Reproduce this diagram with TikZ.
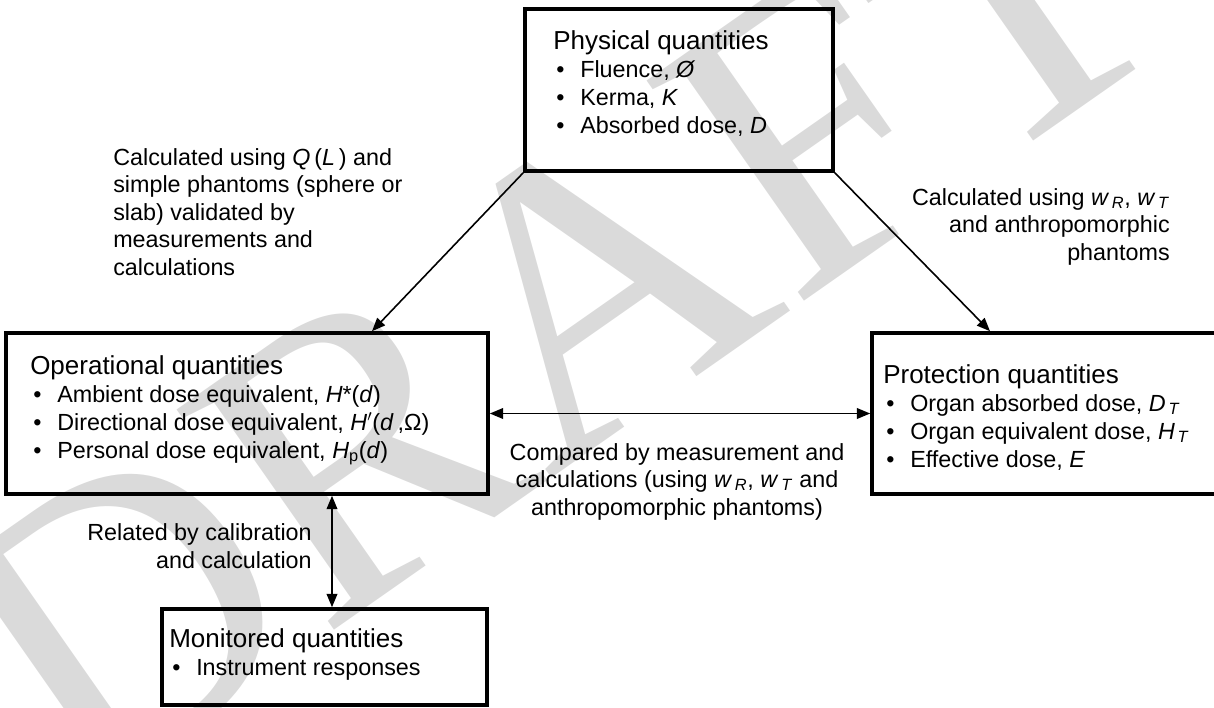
\documentclass[tikz,border=0pt]{standalone}
\usepackage{fontspec}
\setmainfont{Liberation Sans}
\newfontfamily\wmfont{Liberation Serif}
\usepackage{xcolor}
\usetikzlibrary{positioning, calc, arrows.meta}

\newdimen\px \px=0.75pt
\definecolor{wmgray}{HTML}{DADADA}
\newcommand{\qtitle}[1]{{\fontsize{19.5}{21}\selectfont #1}}
\newcommand{\qitem}[1]{\makebox[27\px][l]{\hspace{3\px}\textbullet}#1}
\newcommand{\isub}[2]{\textit{#1}\textsubscript{\textit{#2}}}

\begin{document}
\begin{tikzpicture}[x=0.75pt, y=-0.75pt,
    qbox/.style={draw, line width=2.7pt, inner sep=0pt},
    qtext/.style={inner sep=0pt, align=left, font=\fontsize{17.5}{21}\selectfont},
    qlabel/.style={inner sep=0pt, font=\fontsize{17.5}{20.6}\selectfont},
    conn/.style={line width=1.2pt, -{Triangle[length=10pt,width=8pt]}},
    biconn/.style={line width=1.2pt, {Triangle[length=10pt,width=8pt]}-{Triangle[length=10pt,width=8pt]}},
    wm/.style={text=wmgray, inner sep=0pt, rotate=35, font=\wmfont\fontsize{310}{310}\selectfont}]
    \useasboundingbox (0,0) rectangle (1214,707);
    \clip (0,0) rectangle (1214,707);
    % watermark
    \node[wm] (draft) at (555,310) {DRAFT};
    % boxes
    \node[qbox, minimum width=308\px, minimum height=162\px] (phys) at (679,90) {};
    \node[qbox, minimum width=482\px, minimum height=161\px] (oper) at (247,413.5) {};
    \node[qbox, minimum width=358\px, minimum height=161\px] (prot) at (1051,413.5) {};
    \node[qbox, minimum width=325\px, minimum height=96\px] (mon) at (324.5,657) {};
    % box contents (anchored on the last line)
    \node[qtext, anchor=base west] (phys-t) at (553,133) {\qtitle{Physical quantities}\\
      \qitem{Fluence, \textit{Ø}}\\
      \qitem{Kerma, \textit{K}}\\
      \qitem{Absorbed dose, \textit{D}}};
    \node[qtext, anchor=base west] (oper-t) at (30,458) {\qtitle{Operational quantities}\\
      \qitem{Ambient dose equivalent, \textit{H}*(\textit{d})}\\
      \qitem{Directional dose equivalent, \textit{H}$'$(\textit{d}\,,Ω)}\\
      \qitem{Personal dose equivalent, \textit{H}\textsubscript{p}(\textit{d})}};
    \node[qtext, anchor=base west] (prot-t) at (883,467) {\qtitle{Protection quantities}\\
      \qitem{Organ absorbed dose, \isub{D}{\,T}}\\
      \qitem{Organ equivalent dose, \isub{H}{\,T}}\\
      \qitem{Effective dose, \textit{E}}};
    \node[qtext, anchor=base west] (mon-t) at (169,675) {\qtitle{Monitored quantities}\\
      \qitem{Instrument responses}};
    % labels
    \node[qlabel, align=left, anchor=base west] (lbl-oper) at (113,275) {Calculated using \textit{Q}\,(\textit{L}\,) and\\
      simple phantoms (sphere or\\ slab) validated by\\ measurements and\\ calculations};
    \node[qlabel, align=right, anchor=base east] (lbl-prot) at (1170,260) {Calculated using \isub{w}{\,R}, \isub{w}{\,T}\\
      and anthropomorphic\\ phantoms};
    \node[qlabel, align=center, anchor=base] (lbl-cmp) at (677,515) {Compared by measurement and\\
      calculations (using \isub{w}{\,R}, \isub{w}{\,T} and\\ anthropomorphic phantoms)};
    \node[qlabel, align=right, anchor=base east] (lbl-mon) at (312,568) {Related by calibration\\ and calculation};
    % connectors
    \coordinate (oper-in) at (372,0);
    \coordinate (prot-in) at (990,0);
    \coordinate (mon-x) at (332,0);
    \draw[conn] (phys.south west) -- (oper.north -| oper-in);
    \draw[conn] (phys.south east) -- (prot.north -| prot-in);
    \draw[biconn] (oper.east) -- (prot.west);
    \draw[biconn] (oper.south -| mon-x) -- (mon.north -| mon-x);
\end{tikzpicture}
\end{document}
